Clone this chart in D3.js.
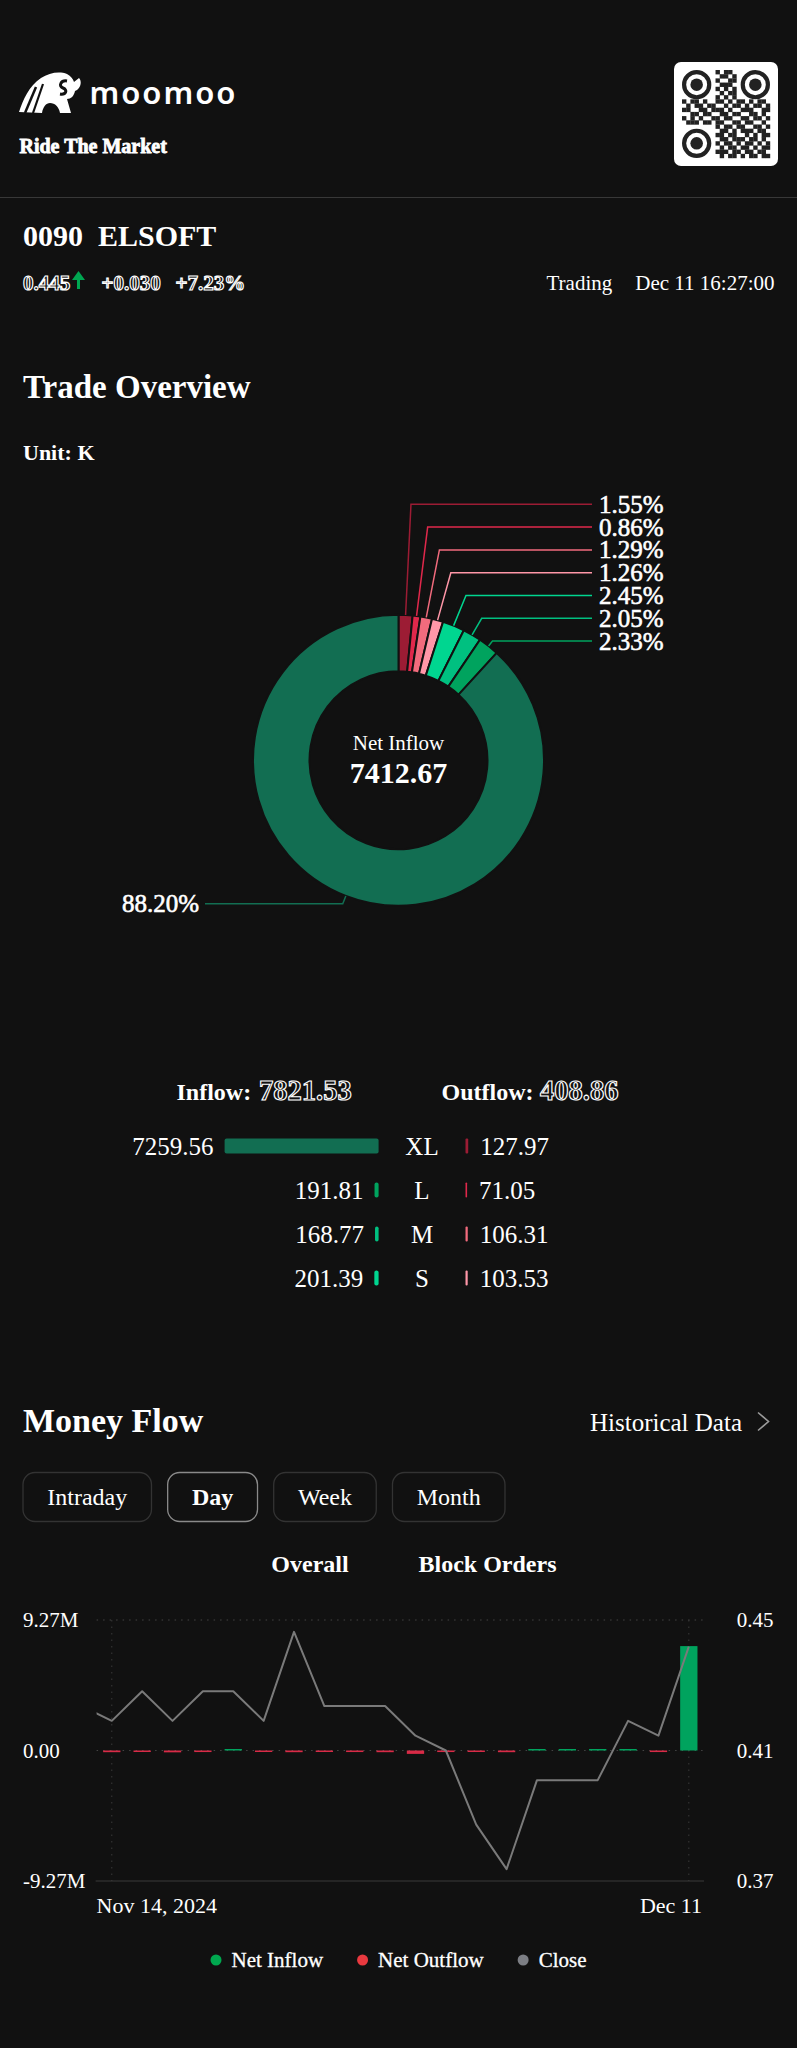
<!DOCTYPE html>
<html>
<head>
<meta charset="utf-8">
<script src="https://cdn.jsdelivr.net/npm/d3@7"></script>
<style>
html, body { margin: 0; padding: 0; background: #111; }
svg { display: block; font-family: "Liberation Serif", "Times New Roman", serif; }
</style>
</head>
<body>
<div id="page"></div>
<script>
const W = 797, H = 2048;
const BG = "#111111";

// ---- quote header
const stockCode = "0090";
const stockName = "ELSOFT";
const lastPrice = "0.445";
const priceChange = "+0.030";
const pctChange = "+7.23%";
const quoteTime = "Dec 11 16:27:00";

// ---- trade overview (unit K)
const flowSizes = ["XL", "L", "M", "S"];
const inflowVals = [7259.56, 191.81, 168.77, 201.39];
const outflowVals = [127.97, 71.05, 106.31, 103.53];
const inflowTotal = "7821.53";
const outflowTotal = "408.86";
const netInflow = "7412.67";
const inColors = ["#126e52", "#00a35e", "#00c080", "#00d690"];
const outColors = ["#9c1c34", "#e0284b", "#f26b7d", "#ff97a8"];

// donut slices, clockwise from 12 o'clock
const sliceLabels = ["1.55%", "0.86%", "1.29%", "1.26%", "2.45%", "2.05%", "2.33%", "88.20%"];
const sliceVals = [1.55, 0.86, 1.29, 1.26, 2.45, 2.05, 2.33, 88.20];
const sliceColors = [outColors[0], outColors[1], outColors[2], outColors[3],
                     inColors[3], inColors[2], inColors[1], inColors[0]];

// ---- money flow, daily
const days = ["2024-11-14","2024-11-15","2024-11-18","2024-11-19","2024-11-20","2024-11-21",
  "2024-11-22","2024-11-25","2024-11-26","2024-11-27","2024-11-28","2024-11-29","2024-12-02",
  "2024-12-03","2024-12-04","2024-12-05","2024-12-06","2024-12-09","2024-12-10","2024-12-11"];
const netFlowM = [-0.12, -0.10, -0.13, -0.11, 0.07, -0.10, -0.12, -0.09, -0.11, -0.12,
  -0.24, -0.11, -0.09, -0.12, 0.08, 0.07, 0.09, 0.08, -0.11, 7.41];
const closePx = [0.420, 0.430, 0.420, 0.430, 0.430, 0.420, 0.450, 0.425, 0.425, 0.425,
  0.415, 0.410, 0.385, 0.370, 0.400, 0.400, 0.400, 0.420, 0.415, 0.445];
const prevClose = 0.425; // day before the window, line runs off the left edge
const leftTickLabels = ["9.27M", "0.00", "-9.27M"];
const rightTickLabels = ["0.45", "0.41", "0.37"];
const tabs = ["Intraday", "Day", "Week", "Month"];
const activeTab = "Day";
const legendItems = [["Net Inflow", "#00a84f"], ["Net Outflow", "#e9393f"], ["Close", "#7c7e84"]];

const qrRows = [
  "000000001011000000000",
  "000000000110100000000",
  "000000001001100000000",
  "000000000111000000000",
  "000000001010100000000",
  "000000000101100000000",
  "000000001010100000000",
  "101101001101011010110",
  "010110110010110101101",
  "110011011101001110011",
  "001101100110110011010",
  "101010011011001101101",
  "011101101100110110010",
  "000000001011011001101",
  "000000000110101110110",
  "000000001101100101011",
  "000000000110111011010",
  "000000001011010110101",
  "000000000101101101011",
  "000000001110110110110",
  "000000000101101011011"
];

const svg = d3.select("#page").append("svg")
  .attr("width", W).attr("height", H)
  .attr("viewBox", "0 0 " + W + " " + H);

svg.append("rect").attr("width", W).attr("height", H).attr("fill", BG);

function label(x, y, str, size, opts) {
  opts = opts || {};
  let t = svg.append("text")
    .attr("x", x).attr("y", y)
    .attr("font-size", size)
    .attr("fill", opts.fill || "#fff")
    .attr("text-anchor", opts.anchor || "start")
    .text(str);
  if (opts.bold) t.attr("font-weight", "bold");
  if (opts.mid) t.attr("dominant-baseline", "central");
  if (opts.hollow) {
    t.attr("fill", BG).attr("stroke", "#fff").attr("stroke-width", 1.15).attr("font-weight", "bold");
  }
  return t;
}

// ---------- logo
let logo = svg.append("g").attr("transform", "translate(19,72)");
logo.append("path")
  .attr("d", "M0,40 C4,28 10,14 22,6 C30,1 40,-1 48,2 C52,4 54,7 55,10 L60,6 C63,9 62,15 58,18 L56,19 C55,24 52,27 48,27 L50,34 L52,41 L41,41 C40,35 36,31 31,31 C27,31 24,35 23,41 Z")
  .attr("fill", "#fff");
logo.append("path")
  .attr("d", "M48,9 C42,8 39,14 44,16 C49,18 47,23 41,22")
  .attr("fill", "none").attr("stroke", BG).attr("stroke-width", 3);
logo.append("path").attr("d", "M6,41 L17,15").attr("stroke", BG).attr("stroke-width", 2.5);
logo.append("path").attr("d", "M14,41 L24,12").attr("stroke", BG).attr("stroke-width", 2.2);
svg.append("text").attr("x", 89.5).attr("y", 104)
  .attr("font-family", "'Noto Sans', Roboto, sans-serif").attr("font-weight", 600)
  .attr("font-size", 31).attr("fill", "#fff")
  .attr("textLength", 146).attr("lengthAdjust", "spacing")
  .text("moomoo");
// tagline, heavy white glyphs
svg.append("text").attr("x", 19.5).attr("y", 153).attr("font-size", 20).attr("font-weight", "bold")
  .attr("font-family", "'Liberation Serif', serif")
  .attr("fill", "#fff").attr("stroke", "#fff").attr("stroke-width", 0.8).text("Ride The Market");

// ---------- QR code
let qr = svg.append("g").attr("transform", "translate(674,62)");
qr.append("rect").attr("width", 104).attr("height", 104).attr("rx", 7).attr("fill", "#fff");
const mod = 88 / 21;
qrRows.forEach((row, r) => {
  row.split("").forEach((c, k) => {
    if (c === "1") {
      qr.append("rect").attr("x", 8 + k * mod).attr("y", 8 + r * mod)
        .attr("width", mod + 0.2).attr("height", mod + 0.2).attr("fill", "#222");
    }
  });
});
[[3, 3], [17, 3], [3, 17]].forEach(p => {
  let fx = 8 + (p[0] + 0.5) * mod, fy = 8 + (p[1] + 0.5) * mod;
  qr.append("circle").attr("cx", fx).attr("cy", fy).attr("r", 3 * mod)
    .attr("fill", "none").attr("stroke", "#222").attr("stroke-width", mod);
  qr.append("circle").attr("cx", fx).attr("cy", fy).attr("r", 1.5 * mod).attr("fill", "#222");
});

svg.append("line").attr("x1", 0).attr("x2", W).attr("y1", 197.5).attr("y2", 197.5)
  .attr("stroke", "#383838").attr("stroke-width", 1);

// ---------- quote
label(23, 245.5, stockCode + "\u00a0\u00a0" + stockName, 30, { bold: true });
label(23, 290, lastPrice, 21, { hollow: true });
svg.append("path").attr("d", "M78.5,271 L85,280 L80,280 L80,289 L77,289 L77,280 L72,280 Z").attr("fill", "#00a651");
label(101.5, 290, priceChange, 21, { hollow: true });
label(175.5, 290, pctChange, 21, { hollow: true });
label(546.5, 290, "Trading", 21);
label(774.5, 290, quoteTime, 21, { anchor: "end" });

// ---------- trade overview
label(23, 398, "Trade Overview", 33, { bold: true });
label(23, 460, "Unit: K", 22, { bold: true });

const cx = W / 2, cy = 760.3, rOut = 145.5, rIn = 89;
const pie = d3.pie().sort(null).value(d => d);
const arcs = pie(sliceVals);
const arc = d3.arc().innerRadius(rIn).outerRadius(rOut);
let donut = svg.append("g").attr("transform", "translate(" + cx + "," + cy + ")");
donut.selectAll("path.slice").data(arcs).enter().append("path")
  .attr("class", "slice")
  .attr("d", arc)
  .attr("fill", (d, i) => sliceColors[i])
  .attr("stroke", BG).attr("stroke-width", 2);

const labelX = 599, labelTop = cy - 256, labelStep = 22.8;
arcs.forEach((d, i) => {
  let a = (d.startAngle + d.endAngle) / 2;
  let p0 = [cx + rOut * Math.sin(a), cy - rOut * Math.cos(a)];
  let pts, tx, ty, anchor;
  if (i < arcs.length - 1) {
    ty = labelTop + i * labelStep;
    let ex = cx + (cy - ty) * Math.tan(a);
    pts = [p0, [ex, ty], [labelX - 7, ty]];
    tx = labelX; anchor = "start";
  } else {
    let p1 = [cx + (rOut + 8.5) * Math.sin(a), cy - (rOut + 8.5) * Math.cos(a)];
    ty = p1[1];
    pts = [p0, p1, [205, ty]];
    tx = 199; anchor = "end";
  }
  svg.append("path").attr("d", d3.line()(pts)).attr("fill", "none")
    .attr("stroke", sliceColors[i]).attr("stroke-width", 1.5);
  label(tx, ty, sliceLabels[i], 25, { anchor: anchor, mid: true })
    .attr("stroke", "#fff").attr("stroke-width", 0.6);
});

label(cx, 750, "Net Inflow", 21, { anchor: "middle" });
label(cx, 782.5, netInflow, 30, { anchor: "middle", bold: true });

// inflow / outflow totals
label(176.5, 1100, "Inflow:", 24, { bold: true });
label(259, 1100, inflowTotal, 28.5, { hollow: true });
label(441.5, 1100, "Outflow:", 24, { bold: true });
label(540, 1100, outflowTotal, 28.5, { hollow: true });

const barX = d3.scaleLinear().domain([0, d3.max(inflowVals)]).range([0, 154]);
const inRight = 378.6, outLeft = 465.5, sizeX = 422, rowY0 = 1146, rowStep = 44, barH = 15;
flowSizes.forEach((s, i) => {
  let y = rowY0 + i * rowStep;
  let wi = Math.max(barX(inflowVals[i]), 2.5);
  let wo = Math.max(barX(outflowVals[i]), 1.6);
  svg.append("rect").attr("x", inRight - wi).attr("y", y - barH / 2)
    .attr("width", wi).attr("height", barH).attr("rx", Math.min(2, wi / 2)).attr("fill", inColors[i]);
  svg.append("rect").attr("x", outLeft).attr("y", y - barH / 2)
    .attr("width", wo).attr("height", barH).attr("rx", Math.min(1, wo / 2)).attr("fill", outColors[i]);
  label(inRight - wi - 11, y, inflowVals[i].toFixed(2), 25, { anchor: "end", mid: true });
  label(sizeX, y, s, 25, { anchor: "middle", mid: true });
  label(outLeft + wo + 12, y, outflowVals[i].toFixed(2), 25, { mid: true });
});

// ---------- money flow
label(23, 1431.5, "Money Flow", 34, { bold: true });
label(742, 1422, "Historical Data", 25, { anchor: "end", mid: true });
svg.append("path").attr("d", "M758,1412.5 L768.5,1421.5 L758,1430.5")
  .attr("fill", "none").attr("stroke", "#9a9a9a").attr("stroke-width", 1.6);

let tabX = 23;
tabs.forEach(t => {
  let on = t === activeTab;
  let g = svg.append("g");
  let rect = g.append("rect").attr("y", 1472.5).attr("height", 49).attr("rx", 12)
    .attr("fill", "none").attr("stroke", on ? "#8a8a8a" : "#333").attr("stroke-width", 1.3);
  let tt = g.append("text").attr("y", 1497).attr("dominant-baseline", "central")
    .attr("font-size", 24).attr("fill", "#fff").attr("text-anchor", "middle")
    .attr("font-weight", on ? "bold" : "normal").text(t);
  let tw = tt.node().getComputedTextLength() + 48.5;
  rect.attr("x", tabX).attr("width", tw);
  tt.attr("x", tabX + tw / 2);
  tabX += tw + 16.2;
});

label(310, 1564, "Overall", 24, { anchor: "middle", bold: true, mid: true });
label(487.5, 1564, "Block Orders", 24, { anchor: "middle", bold: true, mid: true });

// chart
const plotL = 96.6, plotR = 704, plotT = 1620, plotB = 1881;
const x = d3.scaleBand().domain(days).range([plotL, plotR]).paddingInner(0.43).paddingOuter(0.215);
const step = x.step();
const xc = d => x(d) + x.bandwidth() / 2;
const flowMax = d3.max(netFlowM, v => Math.abs(v)) * 1.25;
const yFlow = d3.scaleLinear().domain([-flowMax, flowMax]).range([plotB, plotT]);
const pxMax = d3.max(closePx), pxMin = d3.min(closePx);
const pxMid = (pxMax + pxMin) / 2, pxHalf = (pxMax - pxMin) / 2 * 1.1;
const yPx = d3.scaleLinear().domain([pxMid - pxHalf, pxMid + pxHalf]).range([plotB, plotT]);

const grid = svg.append("g");
[plotT, yFlow(0)].forEach(gy => {
  grid.append("line").attr("x1", plotL).attr("x2", plotR).attr("y1", gy).attr("y2", gy)
    .attr("stroke", "#444").attr("stroke-width", 1).attr("stroke-dasharray", "1.5,5");
});
[days[0], days[days.length - 1]].forEach(dd => {
  grid.append("line").attr("x1", xc(dd)).attr("x2", xc(dd)).attr("y1", plotT).attr("y2", plotB)
    .attr("stroke", "#3a3a3a").attr("stroke-width", 1).attr("stroke-dasharray", "1.5,5");
});
grid.append("line").attr("x1", plotL - 1).attr("x2", plotR).attr("y1", plotB).attr("y2", plotB)
  .attr("stroke", "#3a3a3a").attr("stroke-width", 1.2);

svg.selectAll("rect.flow").data(netFlowM).enter().append("rect")
  .attr("class", "flow")
  .attr("x", (d, i) => x(days[i]))
  .attr("width", x.bandwidth())
  .attr("y", d => d >= 0 ? Math.min(yFlow(d), yFlow(0) - 1.5) : yFlow(0))
  .attr("height", d => Math.max(Math.abs(yFlow(d) - yFlow(0)), 1.5))
  .attr("fill", d => d >= 0 ? "#00a35e" : "#d92b47");

svg.append("clipPath").attr("id", "plotclip").append("rect")
  .attr("x", plotL).attr("y", plotT - 20).attr("width", plotR - plotL).attr("height", plotB - plotT + 40);
const linePts = [[xc(days[0]) - step, yPx(prevClose)]].concat(closePx.map((v, i) => [xc(days[i]), yPx(v)]));
svg.append("path").attr("d", d3.line()(linePts)).attr("clip-path", "url(#plotclip)")
  .attr("fill", "none").attr("stroke", "#7a7a7a").attr("stroke-width", 2).attr("stroke-linejoin", "round");

[plotT, yFlow(0), plotB].forEach((gy, i) => {
  label(23, gy, leftTickLabels[i], 21, { mid: true });
  label(773.5, gy, rightTickLabels[i], 21, { mid: true, anchor: "end" });
});
const fmtFirst = d3.timeFormat("%b %d, %Y"), fmtLast = d3.timeFormat("%b %d");
const parse = d3.timeParse("%Y-%m-%d");
label(plotL, 1913, fmtFirst(parse(days[0])), 22);
label(plotR - 2, 1913, fmtLast(parse(days[days.length - 1])), 22, { anchor: "end" });

// legend
let leg = svg.append("g");
let lx = 0;
legendItems.forEach((it, i) => {
  leg.append("circle").attr("cx", lx + 5.5).attr("cy", 1960).attr("r", 5.5).attr("fill", it[1]);
  let t = leg.append("text").attr("x", lx + 21).attr("y", 1960).attr("dominant-baseline", "central")
    .attr("font-size", 21).attr("fill", "#fff").attr("stroke", "#fff").attr("stroke-width", 0.3).text(it[0]);
  lx += 21 + t.node().getComputedTextLength() + 34;
});
let legW = lx - 34;
leg.attr("transform", "translate(" + (W / 2 - legW / 2) + ",0)");
</script>
</body>
</html>
